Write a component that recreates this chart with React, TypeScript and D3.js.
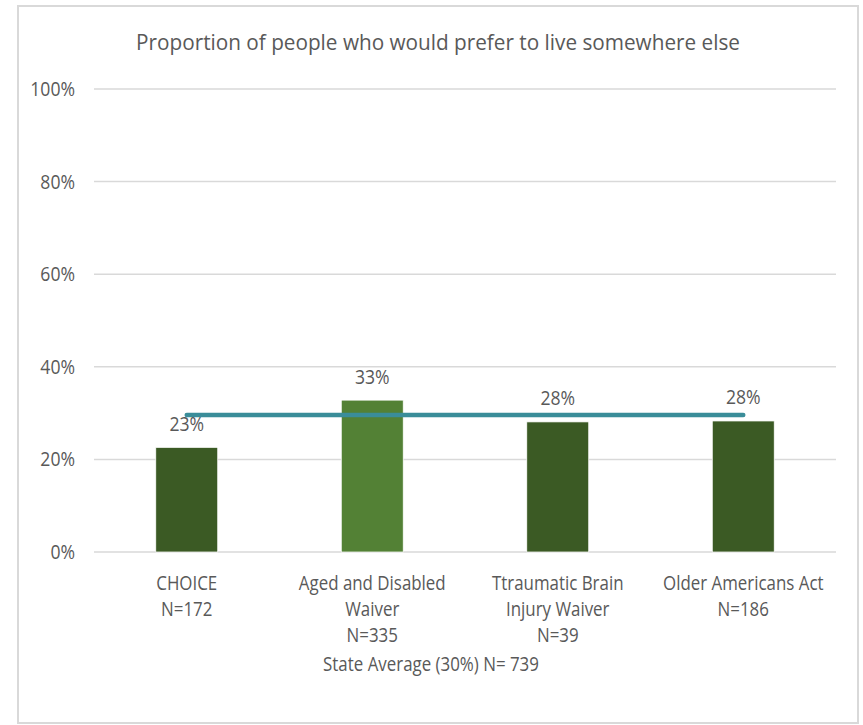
import React from "react";
import * as d3 from "d3";

const categories = ["CHOICE", "Aged and Disabled Waiver", "Ttraumatic Brain Injury Waiver", "Older Americans Act"];
const categoryLines = [
  ["CHOICE", "N=172"],
  ["Aged and Disabled", "Waiver", "N=335"],
  ["Ttraumatic Brain", "Injury Waiver", "N=39"],
  ["Older Americans Act", "N=186"],
];
const values = [0.226, 0.328, 0.281, 0.283];
const valueLabels = ["23%", "33%", "28%", "28%"];
const barColors = ["#3B5A24", "#538135", "#3B5A24", "#3B5A24"];
const stateAverage = 0.296;
const yTicks = [0, 0.2, 0.4, 0.6, 0.8, 1.0];
const title = "Proportion of people who would prefer to live somewhere else";
const footnote = "State Average (30%) N= 739";

const W = 863;
const H = 725;
const FONT = "'Open Sans', 'Noto Sans', sans-serif";
const TEXT = "#595959";
const SX = 0.845;

function NText({ x, y, children, size = 20, sx = SX, anchor = "middle" }: any) {
  return (
    <text
      transform={`translate(${x},${y}) scale(${sx},1)`}
      textAnchor={anchor}
      fontSize={size}
      fill={TEXT}
    >
      {children}
    </text>
  );
}

export default function App() {
  const x = d3
    .scaleBand<string>()
    .domain(categories)
    .range([94, 836])
    .paddingInner(0.666)
    .paddingOuter(0.333);
  const y = d3.scaleLinear().domain([0, 1]).range([552, 89]);
  const fmt = d3.format(".0%");
  const cx = (c: string) => (x(c) as number) + x.bandwidth() / 2;

  const line = d3
    .line<string>()
    .x((c) => cx(c))
    .y(() => y(stateAverage));
  const avgPath = line([categories[0], categories[categories.length - 1]]) || "";

  return (
    <div style={{ position: "absolute", left: 0, top: 0 }}>
      <svg width={W} height={H} style={{ display: "block", background: "#fff" }} fontFamily={FONT}>
        <rect x={0} y={0} width={W} height={H} fill="#fff" />
        <rect x={18} y={6} width={840} height={717} fill="#fff" stroke="#D9D9D9" strokeWidth={2} />
        <NText x={438} y={50} size={21.5} sx={0.965}>
          {title}
        </NText>
        {yTicks.map((t) => (
          <g key={t}>
            <line x1={94} x2={836} y1={y(t)} y2={y(t)} stroke="#D9D9D9" strokeWidth={1.5} />
            <NText x={75} y={y(t) + 7} size={20} sx={0.88} anchor="end">
              {fmt(t)}
            </NText>
          </g>
        ))}
        {categories.map((c, i) => (
          <rect
            key={c}
            x={x(c)}
            y={y(values[i])}
            width={x.bandwidth()}
            height={y(0) - y(values[i])}
            fill={barColors[i]}
            stroke="#fff"
            strokeWidth={0.75}
          />
        ))}
        <path d={avgPath} stroke="#3A8D99" strokeWidth={4.5} strokeLinecap="round" fill="none" />
        {categories.map((c, i) => (
          <NText key={c} x={cx(c)} y={y(values[i]) - 16.5} size={20} sx={0.88}>
            {valueLabels[i]}
          </NText>
        ))}
        {categories.map((c, i) =>
          categoryLines[i].map((ln, j) => (
            <NText key={c + j} x={cx(c)} y={590 + j * 26} size={20}>
              {ln}
            </NText>
          ))
        )}
        <NText x={431} y={671} size={20}>
          {footnote}
        </NText>
      </svg>
    </div>
  );
}
